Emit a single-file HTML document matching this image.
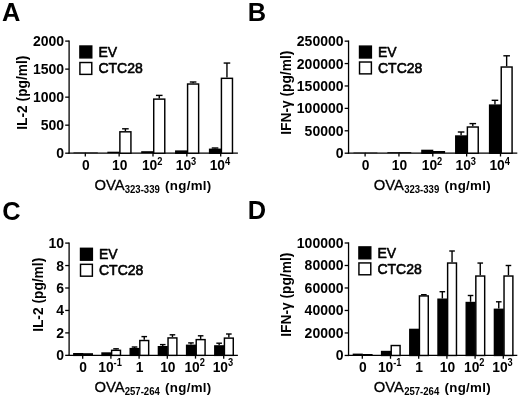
<!DOCTYPE html>
<html><head><meta charset="utf-8"><title>Figure</title>
<style>
html,body{margin:0;padding:0;background:#fff;}
body{width:520px;height:398px;overflow:hidden;}
svg{display:block;font-family:"Liberation Sans",sans-serif;fill:#000;filter:blur(0.35px);}
</style></head><body>
<svg width="520" height="398" viewBox="0 0 520 398">
<rect x="0" y="0" width="520" height="398" fill="#fff" stroke="none"/>
<text x="2.00" y="20.90" font-size="25.4" font-weight="bold" text-anchor="start" >A</text>
<line x1="69.10" y1="40.45" x2="69.10" y2="153.85" stroke="#000" stroke-width="1.3"/>
<line x1="68.45" y1="153.20" x2="237.90" y2="153.20" stroke="#000" stroke-width="1.3"/>
<line x1="65.20" y1="153.20" x2="69.10" y2="153.20" stroke="#000" stroke-width="1.3"/>
<text x="64.10" y="158.20" font-size="14.0" font-weight="bold" text-anchor="end" >0</text>
<line x1="65.20" y1="125.17" x2="69.10" y2="125.17" stroke="#000" stroke-width="1.3"/>
<text x="64.10" y="130.17" font-size="14.0" font-weight="bold" text-anchor="end" >500</text>
<line x1="65.20" y1="97.15" x2="69.10" y2="97.15" stroke="#000" stroke-width="1.3"/>
<text x="64.10" y="102.15" font-size="14.0" font-weight="bold" text-anchor="end" >1000</text>
<line x1="65.20" y1="69.12" x2="69.10" y2="69.12" stroke="#000" stroke-width="1.3"/>
<text x="64.10" y="74.12" font-size="14.0" font-weight="bold" text-anchor="end" >1500</text>
<line x1="65.20" y1="41.10" x2="69.10" y2="41.10" stroke="#000" stroke-width="1.3"/>
<text x="64.10" y="46.10" font-size="14.0" font-weight="bold" text-anchor="end" >2000</text>
<line x1="85.30" y1="153.20" x2="85.30" y2="156.50" stroke="#000" stroke-width="1.3"/>
<rect x="73.50" y="152.50" width="12.30" height="0.70" fill="#000"/>
<rect x="85.30" y="152.50" width="12.50" height="0.70" fill="#000"/>
<text x="81.96" y="170.30" font-size="13.8" font-weight="bold" text-anchor="start" >0</text>
<line x1="119.15" y1="153.20" x2="119.15" y2="156.50" stroke="#000" stroke-width="1.3"/>
<rect x="107.35" y="151.70" width="12.30" height="1.50" fill="#000"/>
<line x1="125.40" y1="131.10" x2="125.40" y2="128.80" stroke="#000" stroke-width="1.4"/>
<line x1="122.10" y1="128.80" x2="128.70" y2="128.80" stroke="#000" stroke-width="1.4"/>
<rect x="119.88" y="131.82" width="11.05" height="21.37" fill="#fff" stroke="#000" stroke-width="1.45"/>
<text x="111.98" y="170.30" font-size="13.8" font-weight="bold" text-anchor="start" >10</text>
<line x1="153.00" y1="153.20" x2="153.00" y2="156.50" stroke="#000" stroke-width="1.3"/>
<rect x="141.20" y="151.20" width="12.30" height="2.00" fill="#000"/>
<line x1="159.25" y1="98.40" x2="159.25" y2="95.40" stroke="#000" stroke-width="1.4"/>
<line x1="155.95" y1="95.40" x2="162.55" y2="95.40" stroke="#000" stroke-width="1.4"/>
<rect x="153.72" y="99.12" width="11.05" height="54.07" fill="#fff" stroke="#000" stroke-width="1.45"/>
<text x="141.95" y="170.30" font-size="13.8" font-weight="bold" text-anchor="start" >10</text>
<text transform="translate(157.19,164.60) scale(0.86,1)" font-size="10.8" font-weight="bold">2</text>
<line x1="186.85" y1="153.20" x2="186.85" y2="156.50" stroke="#000" stroke-width="1.3"/>
<rect x="175.78" y="151.12" width="10.85" height="2.07" fill="#000" stroke="#000" stroke-width="1.45"/>
<line x1="193.10" y1="83.30" x2="193.10" y2="82.00" stroke="#000" stroke-width="1.4"/>
<line x1="189.80" y1="82.00" x2="196.40" y2="82.00" stroke="#000" stroke-width="1.4"/>
<rect x="187.58" y="84.02" width="11.05" height="69.17" fill="#fff" stroke="#000" stroke-width="1.45"/>
<text x="175.80" y="170.30" font-size="13.8" font-weight="bold" text-anchor="start" >10</text>
<text transform="translate(191.04,164.60) scale(0.86,1)" font-size="10.8" font-weight="bold">3</text>
<line x1="220.70" y1="153.20" x2="220.70" y2="156.50" stroke="#000" stroke-width="1.3"/>
<line x1="215.05" y1="148.60" x2="215.05" y2="148.00" stroke="#000" stroke-width="1.4"/>
<line x1="211.75" y1="148.00" x2="218.35" y2="148.00" stroke="#000" stroke-width="1.4"/>
<rect x="209.62" y="149.32" width="10.85" height="3.87" fill="#000" stroke="#000" stroke-width="1.45"/>
<line x1="226.95" y1="77.60" x2="226.95" y2="63.05" stroke="#000" stroke-width="1.4"/>
<line x1="223.65" y1="63.05" x2="230.25" y2="63.05" stroke="#000" stroke-width="1.4"/>
<rect x="221.42" y="78.32" width="11.05" height="74.88" fill="#fff" stroke="#000" stroke-width="1.45"/>
<text x="209.65" y="170.30" font-size="13.8" font-weight="bold" text-anchor="start" >10</text>
<text transform="translate(224.89,164.60) scale(0.86,1)" font-size="10.8" font-weight="bold">4</text>
<text x="94.40" y="189.50" font-size="14.8" font-weight="normal" text-anchor="start" stroke="#000" stroke-width="0.3">OVA</text>
<text transform="translate(124.70,192.70) scale(0.84,1)" font-size="11.4" font-weight="bold">323-339</text>
<text x="165.00" y="189.50" font-size="13.3" font-weight="bold" text-anchor="start" letter-spacing="0.32">(ng/ml)</text>
<text x="0.00" y="0.00" font-size="13.75" font-weight="bold" text-anchor="middle" transform="translate(27.00,92.65) rotate(-90)">IL-2 (pg/ml)</text>
<rect x="79.92" y="46.02" width="11.85" height="11.85" fill="#000" stroke="#000" stroke-width="1.45"/>
<rect x="79.92" y="62.52" width="11.85" height="11.85" fill="#fff" stroke="#000" stroke-width="1.45"/>
<text x="98.40" y="56.60" font-size="14" font-weight="normal" text-anchor="start" stroke="#000" stroke-width="0.6" stroke-linejoin="round">EV</text>
<text x="98.40" y="73.00" font-size="14" font-weight="normal" text-anchor="start" stroke="#000" stroke-width="0.6" stroke-linejoin="round">CTC28</text>
<text x="247.70" y="20.80" font-size="25.4" font-weight="bold" text-anchor="start" >B</text>
<line x1="348.55" y1="40.50" x2="348.55" y2="153.85" stroke="#000" stroke-width="1.3"/>
<line x1="347.90" y1="153.20" x2="517.30" y2="153.20" stroke="#000" stroke-width="1.3"/>
<line x1="344.65" y1="153.20" x2="348.55" y2="153.20" stroke="#000" stroke-width="1.3"/>
<text x="343.55" y="158.20" font-size="14.0" font-weight="bold" text-anchor="end" >0</text>
<line x1="344.65" y1="130.79" x2="348.55" y2="130.79" stroke="#000" stroke-width="1.3"/>
<text x="343.55" y="135.79" font-size="14.0" font-weight="bold" text-anchor="end" >50000</text>
<line x1="344.65" y1="108.38" x2="348.55" y2="108.38" stroke="#000" stroke-width="1.3"/>
<text x="343.55" y="113.38" font-size="14.0" font-weight="bold" text-anchor="end" >100000</text>
<line x1="344.65" y1="85.97" x2="348.55" y2="85.97" stroke="#000" stroke-width="1.3"/>
<text x="343.55" y="90.97" font-size="14.0" font-weight="bold" text-anchor="end" >150000</text>
<line x1="344.65" y1="63.56" x2="348.55" y2="63.56" stroke="#000" stroke-width="1.3"/>
<text x="343.55" y="68.56" font-size="14.0" font-weight="bold" text-anchor="end" >200000</text>
<line x1="344.65" y1="41.15" x2="348.55" y2="41.15" stroke="#000" stroke-width="1.3"/>
<text x="343.55" y="46.15" font-size="14.0" font-weight="bold" text-anchor="end" >250000</text>
<line x1="365.10" y1="153.20" x2="365.10" y2="156.50" stroke="#000" stroke-width="1.3"/>
<rect x="353.50" y="152.60" width="12.10" height="0.60" fill="#000"/>
<rect x="365.10" y="152.60" width="12.30" height="0.60" fill="#000"/>
<text x="361.76" y="170.30" font-size="13.8" font-weight="bold" text-anchor="start" >0</text>
<line x1="398.95" y1="153.20" x2="398.95" y2="156.50" stroke="#000" stroke-width="1.3"/>
<rect x="387.35" y="152.20" width="12.10" height="1.00" fill="#000"/>
<rect x="398.95" y="152.20" width="12.30" height="1.00" fill="#000"/>
<text x="391.78" y="170.30" font-size="13.8" font-weight="bold" text-anchor="start" >10</text>
<line x1="432.80" y1="153.20" x2="432.80" y2="156.50" stroke="#000" stroke-width="1.3"/>
<rect x="421.93" y="150.42" width="10.65" height="2.77" fill="#000" stroke="#000" stroke-width="1.45"/>
<rect x="432.80" y="151.00" width="12.30" height="2.20" fill="#000"/>
<text x="421.75" y="170.30" font-size="13.8" font-weight="bold" text-anchor="start" >10</text>
<text transform="translate(436.99,164.60) scale(0.86,1)" font-size="10.8" font-weight="bold">2</text>
<line x1="466.65" y1="153.20" x2="466.65" y2="156.50" stroke="#000" stroke-width="1.3"/>
<line x1="461.10" y1="135.30" x2="461.10" y2="132.00" stroke="#000" stroke-width="1.4"/>
<line x1="457.80" y1="132.00" x2="464.40" y2="132.00" stroke="#000" stroke-width="1.4"/>
<rect x="455.78" y="136.03" width="10.65" height="17.17" fill="#000" stroke="#000" stroke-width="1.45"/>
<line x1="472.80" y1="126.30" x2="472.80" y2="123.60" stroke="#000" stroke-width="1.4"/>
<line x1="469.50" y1="123.60" x2="476.10" y2="123.60" stroke="#000" stroke-width="1.4"/>
<rect x="467.38" y="127.02" width="10.85" height="26.17" fill="#fff" stroke="#000" stroke-width="1.45"/>
<text x="455.60" y="170.30" font-size="13.8" font-weight="bold" text-anchor="start" >10</text>
<text transform="translate(470.84,164.60) scale(0.86,1)" font-size="10.8" font-weight="bold">3</text>
<line x1="500.50" y1="153.20" x2="500.50" y2="156.50" stroke="#000" stroke-width="1.3"/>
<line x1="494.95" y1="104.40" x2="494.95" y2="100.30" stroke="#000" stroke-width="1.4"/>
<line x1="491.65" y1="100.30" x2="498.25" y2="100.30" stroke="#000" stroke-width="1.4"/>
<rect x="489.62" y="105.12" width="10.65" height="48.07" fill="#000" stroke="#000" stroke-width="1.45"/>
<line x1="506.65" y1="66.30" x2="506.65" y2="55.80" stroke="#000" stroke-width="1.4"/>
<line x1="503.35" y1="55.80" x2="509.95" y2="55.80" stroke="#000" stroke-width="1.4"/>
<rect x="501.23" y="67.02" width="10.85" height="86.17" fill="#fff" stroke="#000" stroke-width="1.45"/>
<text x="489.45" y="170.30" font-size="13.8" font-weight="bold" text-anchor="start" >10</text>
<text transform="translate(504.69,164.60) scale(0.86,1)" font-size="10.8" font-weight="bold">4</text>
<text x="373.85" y="189.50" font-size="14.8" font-weight="normal" text-anchor="start" stroke="#000" stroke-width="0.3">OVA</text>
<text transform="translate(404.15,192.70) scale(0.84,1)" font-size="11.4" font-weight="bold">323-339</text>
<text x="444.45" y="189.50" font-size="13.3" font-weight="bold" text-anchor="start" letter-spacing="0.32">(ng/ml)</text>
<text x="0.00" y="0.00" font-size="13.75" font-weight="bold" text-anchor="middle" transform="translate(290.50,92.70) rotate(-90)">IFN-&#947; (pg/ml)</text>
<rect x="359.53" y="46.12" width="11.85" height="11.85" fill="#000" stroke="#000" stroke-width="1.45"/>
<rect x="359.53" y="62.02" width="11.85" height="11.85" fill="#fff" stroke="#000" stroke-width="1.45"/>
<text x="378.00" y="56.70" font-size="14" font-weight="normal" text-anchor="start" stroke="#000" stroke-width="0.6" stroke-linejoin="round">EV</text>
<text x="378.00" y="73.10" font-size="14" font-weight="normal" text-anchor="start" stroke="#000" stroke-width="0.6" stroke-linejoin="round">CTC28</text>
<text x="2.20" y="219.70" font-size="25.4" font-weight="bold" text-anchor="start" >C</text>
<line x1="69.10" y1="242.45" x2="69.10" y2="356.00" stroke="#000" stroke-width="1.3"/>
<line x1="68.45" y1="355.35" x2="237.90" y2="355.35" stroke="#000" stroke-width="1.3"/>
<line x1="65.20" y1="355.35" x2="69.10" y2="355.35" stroke="#000" stroke-width="1.3"/>
<text x="64.10" y="360.35" font-size="14.0" font-weight="bold" text-anchor="end" >0</text>
<line x1="65.20" y1="332.90" x2="69.10" y2="332.90" stroke="#000" stroke-width="1.3"/>
<text x="64.10" y="337.90" font-size="14.0" font-weight="bold" text-anchor="end" >2</text>
<line x1="65.20" y1="310.45" x2="69.10" y2="310.45" stroke="#000" stroke-width="1.3"/>
<text x="64.10" y="315.45" font-size="14.0" font-weight="bold" text-anchor="end" >4</text>
<line x1="65.20" y1="288.00" x2="69.10" y2="288.00" stroke="#000" stroke-width="1.3"/>
<text x="64.10" y="293.00" font-size="14.0" font-weight="bold" text-anchor="end" >6</text>
<line x1="65.20" y1="265.55" x2="69.10" y2="265.55" stroke="#000" stroke-width="1.3"/>
<text x="64.10" y="270.55" font-size="14.0" font-weight="bold" text-anchor="end" >8</text>
<line x1="65.20" y1="243.10" x2="69.10" y2="243.10" stroke="#000" stroke-width="1.3"/>
<text x="64.10" y="248.10" font-size="14.0" font-weight="bold" text-anchor="end" >10</text>
<line x1="82.70" y1="355.35" x2="82.70" y2="358.65" stroke="#000" stroke-width="1.3"/>
<rect x="73.83" y="353.73" width="8.65" height="1.63" fill="#000" stroke="#000" stroke-width="1.45"/>
<rect x="82.70" y="353.20" width="10.30" height="2.15" fill="#000"/>
<text x="79.36" y="371.90" font-size="13.8" font-weight="bold" text-anchor="start" >0</text>
<line x1="110.90" y1="355.35" x2="110.90" y2="358.65" stroke="#000" stroke-width="1.3"/>
<rect x="102.03" y="353.03" width="8.65" height="2.33" fill="#000" stroke="#000" stroke-width="1.45"/>
<line x1="116.05" y1="349.60" x2="116.05" y2="348.80" stroke="#000" stroke-width="1.4"/>
<line x1="113.25" y1="348.80" x2="118.85" y2="348.80" stroke="#000" stroke-width="1.4"/>
<rect x="111.62" y="350.33" width="8.85" height="5.03" fill="#fff" stroke="#000" stroke-width="1.45"/>
<text x="98.30" y="371.90" font-size="13.8" font-weight="bold" text-anchor="start" >10</text>
<text transform="translate(113.54,366.20) scale(0.86,1)" font-size="10.8" font-weight="bold">-1</text>
<line x1="139.10" y1="355.35" x2="139.10" y2="358.65" stroke="#000" stroke-width="1.3"/>
<line x1="134.55" y1="347.90" x2="134.55" y2="347.00" stroke="#000" stroke-width="1.4"/>
<line x1="131.75" y1="347.00" x2="137.35" y2="347.00" stroke="#000" stroke-width="1.4"/>
<rect x="130.22" y="348.62" width="8.65" height="6.73" fill="#000" stroke="#000" stroke-width="1.45"/>
<line x1="144.25" y1="339.80" x2="144.25" y2="336.60" stroke="#000" stroke-width="1.4"/>
<line x1="141.45" y1="336.60" x2="147.05" y2="336.60" stroke="#000" stroke-width="1.4"/>
<rect x="139.82" y="340.53" width="8.85" height="14.83" fill="#fff" stroke="#000" stroke-width="1.45"/>
<text x="135.76" y="371.90" font-size="13.8" font-weight="bold" text-anchor="start" >1</text>
<line x1="167.30" y1="355.35" x2="167.30" y2="358.65" stroke="#000" stroke-width="1.3"/>
<line x1="162.75" y1="346.00" x2="162.75" y2="344.60" stroke="#000" stroke-width="1.4"/>
<line x1="159.95" y1="344.60" x2="165.55" y2="344.60" stroke="#000" stroke-width="1.4"/>
<rect x="158.43" y="346.73" width="8.65" height="8.63" fill="#000" stroke="#000" stroke-width="1.45"/>
<line x1="172.45" y1="337.20" x2="172.45" y2="334.80" stroke="#000" stroke-width="1.4"/>
<line x1="169.65" y1="334.80" x2="175.25" y2="334.80" stroke="#000" stroke-width="1.4"/>
<rect x="168.03" y="337.93" width="8.85" height="17.43" fill="#fff" stroke="#000" stroke-width="1.45"/>
<text x="160.13" y="371.90" font-size="13.8" font-weight="bold" text-anchor="start" >10</text>
<line x1="195.50" y1="355.35" x2="195.50" y2="358.65" stroke="#000" stroke-width="1.3"/>
<line x1="190.95" y1="344.60" x2="190.95" y2="342.90" stroke="#000" stroke-width="1.4"/>
<line x1="188.15" y1="342.90" x2="193.75" y2="342.90" stroke="#000" stroke-width="1.4"/>
<rect x="186.62" y="345.33" width="8.65" height="10.03" fill="#000" stroke="#000" stroke-width="1.45"/>
<line x1="200.65" y1="338.90" x2="200.65" y2="335.80" stroke="#000" stroke-width="1.4"/>
<line x1="197.85" y1="335.80" x2="203.45" y2="335.80" stroke="#000" stroke-width="1.4"/>
<rect x="196.22" y="339.62" width="8.85" height="15.73" fill="#fff" stroke="#000" stroke-width="1.45"/>
<text x="184.45" y="371.90" font-size="13.8" font-weight="bold" text-anchor="start" >10</text>
<text transform="translate(199.69,366.20) scale(0.86,1)" font-size="10.8" font-weight="bold">2</text>
<line x1="223.70" y1="355.35" x2="223.70" y2="358.65" stroke="#000" stroke-width="1.3"/>
<line x1="219.15" y1="345.20" x2="219.15" y2="343.20" stroke="#000" stroke-width="1.4"/>
<line x1="216.35" y1="343.20" x2="221.95" y2="343.20" stroke="#000" stroke-width="1.4"/>
<rect x="214.82" y="345.93" width="8.65" height="9.43" fill="#000" stroke="#000" stroke-width="1.45"/>
<line x1="228.85" y1="337.40" x2="228.85" y2="334.00" stroke="#000" stroke-width="1.4"/>
<line x1="226.05" y1="334.00" x2="231.65" y2="334.00" stroke="#000" stroke-width="1.4"/>
<rect x="224.42" y="338.12" width="8.85" height="17.23" fill="#fff" stroke="#000" stroke-width="1.45"/>
<text x="212.65" y="371.90" font-size="13.8" font-weight="bold" text-anchor="start" >10</text>
<text transform="translate(227.89,366.20) scale(0.86,1)" font-size="10.8" font-weight="bold">3</text>
<text x="94.40" y="391.65" font-size="14.8" font-weight="normal" text-anchor="start" stroke="#000" stroke-width="0.3">OVA</text>
<text transform="translate(124.70,394.85) scale(0.84,1)" font-size="11.4" font-weight="bold">257-264</text>
<text x="165.00" y="391.65" font-size="13.3" font-weight="bold" text-anchor="start" letter-spacing="0.32">(ng/ml)</text>
<text x="0.00" y="0.00" font-size="13.75" font-weight="bold" text-anchor="middle" transform="translate(42.90,294.80) rotate(-90)">IL-2 (pg/ml)</text>
<rect x="80.52" y="248.32" width="11.85" height="11.85" fill="#000" stroke="#000" stroke-width="1.45"/>
<rect x="80.52" y="264.33" width="11.85" height="11.85" fill="#fff" stroke="#000" stroke-width="1.45"/>
<text x="99.00" y="258.90" font-size="14" font-weight="normal" text-anchor="start" stroke="#000" stroke-width="0.6" stroke-linejoin="round">EV</text>
<text x="99.00" y="275.30" font-size="14" font-weight="normal" text-anchor="start" stroke="#000" stroke-width="0.6" stroke-linejoin="round">CTC28</text>
<text x="247.70" y="219.40" font-size="25.4" font-weight="bold" text-anchor="start" >D</text>
<line x1="348.55" y1="242.35" x2="348.55" y2="356.10" stroke="#000" stroke-width="1.3"/>
<line x1="347.90" y1="355.45" x2="517.30" y2="355.45" stroke="#000" stroke-width="1.3"/>
<line x1="344.65" y1="355.45" x2="348.55" y2="355.45" stroke="#000" stroke-width="1.3"/>
<text x="343.55" y="360.45" font-size="14.0" font-weight="bold" text-anchor="end" >0</text>
<line x1="344.65" y1="332.96" x2="348.55" y2="332.96" stroke="#000" stroke-width="1.3"/>
<text x="343.55" y="337.96" font-size="14.0" font-weight="bold" text-anchor="end" >20000</text>
<line x1="344.65" y1="310.47" x2="348.55" y2="310.47" stroke="#000" stroke-width="1.3"/>
<text x="343.55" y="315.47" font-size="14.0" font-weight="bold" text-anchor="end" >40000</text>
<line x1="344.65" y1="287.98" x2="348.55" y2="287.98" stroke="#000" stroke-width="1.3"/>
<text x="343.55" y="292.98" font-size="14.0" font-weight="bold" text-anchor="end" >60000</text>
<line x1="344.65" y1="265.49" x2="348.55" y2="265.49" stroke="#000" stroke-width="1.3"/>
<text x="343.55" y="270.49" font-size="14.0" font-weight="bold" text-anchor="end" >80000</text>
<line x1="344.65" y1="243.00" x2="348.55" y2="243.00" stroke="#000" stroke-width="1.3"/>
<text x="343.55" y="248.00" font-size="14.0" font-weight="bold" text-anchor="end" >100000</text>
<line x1="362.30" y1="355.45" x2="362.30" y2="358.75" stroke="#000" stroke-width="1.3"/>
<rect x="352.70" y="353.60" width="10.10" height="1.85" fill="#000"/>
<rect x="362.30" y="354.00" width="10.30" height="1.45" fill="#000"/>
<text x="358.96" y="371.90" font-size="13.8" font-weight="bold" text-anchor="start" >0</text>
<line x1="390.50" y1="355.45" x2="390.50" y2="358.75" stroke="#000" stroke-width="1.3"/>
<rect x="381.62" y="351.53" width="8.65" height="3.92" fill="#000" stroke="#000" stroke-width="1.45"/>
<rect x="391.23" y="345.53" width="8.85" height="9.92" fill="#fff" stroke="#000" stroke-width="1.45"/>
<text x="377.90" y="371.90" font-size="13.8" font-weight="bold" text-anchor="start" >10</text>
<text transform="translate(393.14,366.20) scale(0.86,1)" font-size="10.8" font-weight="bold">-1</text>
<line x1="418.70" y1="355.45" x2="418.70" y2="358.75" stroke="#000" stroke-width="1.3"/>
<rect x="409.82" y="329.43" width="8.65" height="26.02" fill="#000" stroke="#000" stroke-width="1.45"/>
<line x1="423.85" y1="295.20" x2="423.85" y2="294.70" stroke="#000" stroke-width="1.4"/>
<line x1="421.05" y1="294.70" x2="426.65" y2="294.70" stroke="#000" stroke-width="1.4"/>
<rect x="419.43" y="295.93" width="8.85" height="59.52" fill="#fff" stroke="#000" stroke-width="1.45"/>
<text x="415.36" y="371.90" font-size="13.8" font-weight="bold" text-anchor="start" >1</text>
<line x1="446.90" y1="355.45" x2="446.90" y2="358.75" stroke="#000" stroke-width="1.3"/>
<line x1="442.35" y1="298.50" x2="442.35" y2="291.70" stroke="#000" stroke-width="1.4"/>
<line x1="439.55" y1="291.70" x2="445.15" y2="291.70" stroke="#000" stroke-width="1.4"/>
<rect x="438.02" y="299.23" width="8.65" height="56.22" fill="#000" stroke="#000" stroke-width="1.45"/>
<line x1="452.05" y1="262.30" x2="452.05" y2="251.00" stroke="#000" stroke-width="1.4"/>
<line x1="449.25" y1="251.00" x2="454.85" y2="251.00" stroke="#000" stroke-width="1.4"/>
<rect x="447.62" y="263.03" width="8.85" height="92.42" fill="#fff" stroke="#000" stroke-width="1.45"/>
<text x="439.73" y="371.90" font-size="13.8" font-weight="bold" text-anchor="start" >10</text>
<line x1="475.10" y1="355.45" x2="475.10" y2="358.75" stroke="#000" stroke-width="1.3"/>
<line x1="470.55" y1="301.80" x2="470.55" y2="295.50" stroke="#000" stroke-width="1.4"/>
<line x1="467.75" y1="295.50" x2="473.35" y2="295.50" stroke="#000" stroke-width="1.4"/>
<rect x="466.23" y="302.53" width="8.65" height="52.92" fill="#000" stroke="#000" stroke-width="1.45"/>
<line x1="480.25" y1="275.30" x2="480.25" y2="263.05" stroke="#000" stroke-width="1.4"/>
<line x1="477.45" y1="263.05" x2="483.05" y2="263.05" stroke="#000" stroke-width="1.4"/>
<rect x="475.83" y="276.03" width="8.85" height="79.42" fill="#fff" stroke="#000" stroke-width="1.45"/>
<text x="464.05" y="371.90" font-size="13.8" font-weight="bold" text-anchor="start" >10</text>
<text transform="translate(479.29,366.20) scale(0.86,1)" font-size="10.8" font-weight="bold">2</text>
<line x1="503.30" y1="355.45" x2="503.30" y2="358.75" stroke="#000" stroke-width="1.3"/>
<line x1="498.75" y1="308.60" x2="498.75" y2="301.80" stroke="#000" stroke-width="1.4"/>
<line x1="495.95" y1="301.80" x2="501.55" y2="301.80" stroke="#000" stroke-width="1.4"/>
<rect x="494.43" y="309.33" width="8.65" height="46.12" fill="#000" stroke="#000" stroke-width="1.45"/>
<line x1="508.45" y1="275.30" x2="508.45" y2="265.50" stroke="#000" stroke-width="1.4"/>
<line x1="505.65" y1="265.50" x2="511.25" y2="265.50" stroke="#000" stroke-width="1.4"/>
<rect x="504.03" y="276.03" width="8.85" height="79.42" fill="#fff" stroke="#000" stroke-width="1.45"/>
<text x="492.25" y="371.90" font-size="13.8" font-weight="bold" text-anchor="start" >10</text>
<text transform="translate(507.49,366.20) scale(0.86,1)" font-size="10.8" font-weight="bold">3</text>
<text x="373.85" y="391.75" font-size="14.8" font-weight="normal" text-anchor="start" stroke="#000" stroke-width="0.3">OVA</text>
<text transform="translate(404.15,394.95) scale(0.84,1)" font-size="11.4" font-weight="bold">257-264</text>
<text x="444.45" y="391.75" font-size="13.3" font-weight="bold" text-anchor="start" letter-spacing="0.32">(ng/ml)</text>
<text x="0.00" y="0.00" font-size="13.75" font-weight="bold" text-anchor="middle" transform="translate(290.50,294.70) rotate(-90)">IFN-&#947; (pg/ml)</text>
<rect x="358.93" y="246.92" width="11.85" height="11.85" fill="#000" stroke="#000" stroke-width="1.45"/>
<rect x="358.93" y="262.93" width="11.85" height="11.85" fill="#fff" stroke="#000" stroke-width="1.45"/>
<text x="377.40" y="257.50" font-size="14" font-weight="normal" text-anchor="start" stroke="#000" stroke-width="0.6" stroke-linejoin="round">EV</text>
<text x="377.40" y="273.90" font-size="14" font-weight="normal" text-anchor="start" stroke="#000" stroke-width="0.6" stroke-linejoin="round">CTC28</text>
</svg>
</body></html>
